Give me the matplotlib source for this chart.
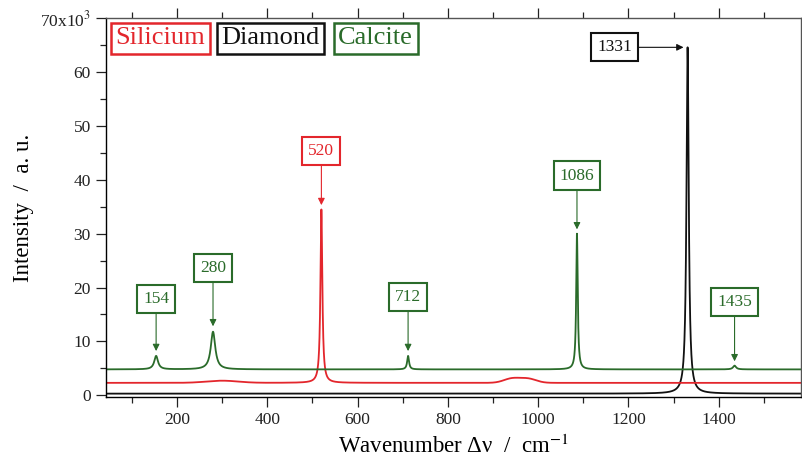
import numpy as np
import matplotlib
matplotlib.use('Agg')
import matplotlib.pyplot as plt
from matplotlib.ticker import MultipleLocator, FuncFormatter

plt.rcParams['font.family'] = ['Liberation Serif', 'DejaVu Serif']
plt.rcParams['mathtext.fontset'] = 'stix'

# ── DATA ──────────────────────────────────────────────────────
# peaks: position (cm-1), height above baseline, FWHM (cm-1)
silicium_base = 2.3
silicium_pos = [520]
silicium_hgt = [32.2]
silicium_fwhm = [5.0]
# broad weak bands in the silicon spectrum: position, height, sigma
silicium_band_pos = [300, 942, 978]
silicium_band_hgt = [0.4, 0.8, 0.75]
silicium_band_sig = [35, 18, 18]

diamond_base = 0.3
diamond_pos = [1331]
diamond_hgt = [64.3]
diamond_fwhm = [6.0]

calcite_base = 4.8
calcite_pos = [154, 280, 712, 1086, 1435]
calcite_hgt = [2.5, 7.0, 2.5, 25.2, 0.7]
calcite_fwhm = [10, 12, 5, 4.0, 8]

# annotation labels: label, arrow tip y, box y (box x = peak position)
calcite_labels = ['154', '280', '712', '1086', '1435']
calcite_tip_y = [8.2, 12.8, 8.2, 30.8, 6.3]
calcite_box_y = [17.8, 23.7, 18.2, 40.8, 17.3]
silicium_label = '520'
silicium_tip_y = 35.3
silicium_box_y = 45.3
diamond_label = '1331'
diamond_tip = (1322, 64.6)
diamond_box = (1170, 64.6)

RED = '#e3262c'
GREEN = '#2a6b2a'
BLACK = '#111111'


def spectrum(x, base, pos, hgt, fwhm):
    y = np.full_like(x, base)
    for p, h, w in zip(pos, hgt, fwhm):
        g = w / 2
        y += h * g**2 / ((x - p)**2 + g**2)
    return y


x = np.arange(40, 1590, 0.2)
y_si = spectrum(x, silicium_base, silicium_pos, silicium_hgt, silicium_fwhm)
for p, h, s in zip(silicium_band_pos, silicium_band_hgt, silicium_band_sig):
    y_si += h * np.exp(-0.5 * ((x - p) / s)**2)
y_dia = spectrum(x, diamond_base, diamond_pos, diamond_hgt, diamond_fwhm)
y_cal = spectrum(x, calcite_base, calcite_pos, calcite_hgt, calcite_fwhm)

# ── PLOT ──────────────────────────────────────────────────────
fig = plt.figure(figsize=(8.03, 4.68), dpi=100)
ax = fig.add_axes([0.132, 0.152, 0.866, 0.809])

ax.plot(x, y_dia, color=BLACK, lw=1.3)
ax.plot(x, y_si, color=RED, lw=1.3)
ax.plot(x, y_cal, color=GREEN, lw=1.3)

ax.set_xlim(43, 1583)
ax.set_ylim(-0.3, 70)

ax.xaxis.set_major_locator(MultipleLocator(200))
ax.xaxis.set_minor_locator(MultipleLocator(100))
ax.yaxis.set_major_locator(MultipleLocator(10))
ax.yaxis.set_minor_locator(MultipleLocator(5))
ax.yaxis.set_major_formatter(FuncFormatter(
    lambda v, _: r'70x10$^3$' if round(v) == 70 else f'{v:.0f}'))
ax.tick_params(which='both', direction='out', top=True, right=True,
               labelsize=12.5, width=0.9, color='#222222', colors='#222222')
ax.tick_params(which='major', length=7, pad=4)
ax.tick_params(which='minor', length=4)
for s in ax.spines.values():
    s.set_linewidth(1.0)
ax.spines['right'].set_color('#555555')
ax.spines['top'].set_color('#555555')

ax.set_xlabel('Wavenumber Δν  /  cm$^{-1}$', fontsize=16.5, labelpad=5)
ax.set_ylabel('Intensity  /  a. u.', fontsize=16.5, labelpad=4)

# peak annotations
arrow = dict(arrowstyle='-|>', lw=0.8, mutation_scale=10, shrinkA=0, shrinkB=0)
box = dict(boxstyle='square,pad=0.35', fc='white', lw=1.5)
for lab, px, ty, by in zip(calcite_labels, calcite_pos, calcite_tip_y, calcite_box_y):
    ax.annotate(lab, xy=(px, ty), xytext=(px, by), ha='center', va='center',
                fontsize=12.5, color=GREEN, bbox=dict(box, ec=GREEN),
                arrowprops=dict(arrow, color=GREEN))
ax.annotate(silicium_label, xy=(silicium_pos[0], silicium_tip_y),
            xytext=(silicium_pos[0], silicium_box_y), ha='center', va='center',
            fontsize=12.5, color=RED, bbox=dict(box, ec=RED),
            arrowprops=dict(arrow, color=RED))
ax.annotate(diamond_label, xy=diamond_tip, xytext=diamond_box,
            ha='center', va='center', fontsize=12.5, color=BLACK,
            bbox=dict(box, ec=BLACK), arrowprops=dict(arrow, color=BLACK))

# legend boxes
legend_names = ['Silicium', 'Diamond', 'Calcite']
legend_cols = [RED, BLACK, GREEN]
legend_x = [0.014, 0.166, 0.334]
for name, c, lx in zip(legend_names, legend_cols, legend_x):
    ax.text(lx, 0.976, name, transform=ax.transAxes, ha='left', va='top',
            fontsize=19, color=c,
            bbox=dict(boxstyle='square,pad=0.17', fc='white', ec=c, lw=1.8))

fig.savefig('out.png', dpi=100)
